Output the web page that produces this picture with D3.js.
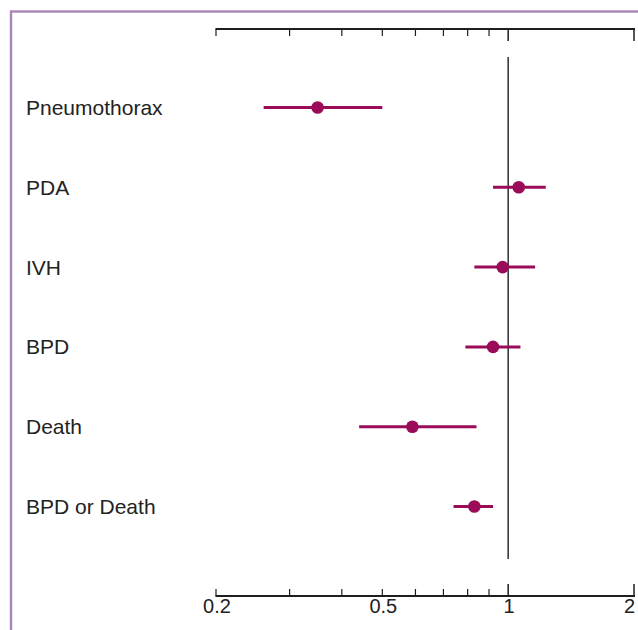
<!DOCTYPE html>
<html>
<head>
<meta charset="utf-8">
<script src="https://cdn.jsdelivr.net/npm/d3@7"></script>
<style>
  html, body { margin: 0; padding: 0; background: #fff; }
  svg { display: block; }
</style>
</head>
<body>
<svg id="chart" width="638" height="630"></svg>
<script>
// Outcomes and their ratio estimates with confidence limits
const outcomes = ["Pneumothorax", "PDA", "IVH", "BPD", "Death", "BPD or Death"];
const estimates = [0.35, 1.06, 0.97, 0.92, 0.59, 0.83];
const lowerCI  = [0.26, 0.92, 0.83, 0.79, 0.44, 0.74];
const upperCI  = [0.50, 1.23, 1.16, 1.07, 0.84, 0.92];

// Axis ticks
const minorTicks = [0.2, 0.3, 0.4, 0.5, 0.6, 0.7, 0.8, 0.9];
const majorTicks = [1, 2];
const tickLabels = [0.2, 0.5, 1, 2];

const svg = d3.select("#chart");
const W = 638, H = 630;

const x = d3.scaleLog().domain([0.2, 2]).range([216, 634]);
const y = d3.scalePoint().domain(outcomes).range([107.5, 506.5]);

const markColor = "#9a0b58";
const axisColor = "#1e1e1e";
const font = "Liberation Sans, Arial, Helvetica, sans-serif";

// Frame
svg.append("rect")
  .attr("x", 11).attr("y", 11.5)
  .attr("width", W + 20).attr("height", H + 20)
  .attr("fill", "none")
  .attr("stroke", "#a886ba")
  .attr("stroke-width", 2.4);

// Top and bottom log axes
function drawAxis(yPos, dir) {
  const g = svg.append("g");
  g.append("line")
    .attr("x1", x(0.2) - 0.5).attr("x2", x(2) + 1)
    .attr("y1", yPos).attr("y2", yPos)
    .attr("stroke", axisColor).attr("stroke-width", 2);
  g.selectAll("line.minor").data(minorTicks).join("line")
    .attr("class", "minor")
    .attr("x1", d => x(d)).attr("x2", d => x(d))
    .attr("y1", yPos).attr("y2", yPos + dir * 7)
    .attr("stroke", axisColor).attr("stroke-width", 1.2);
  g.selectAll("line.major").data(majorTicks).join("line")
    .attr("class", "major")
    .attr("x1", d => x(d)).attr("x2", d => x(d))
    .attr("y1", yPos).attr("y2", yPos + dir * 12)
    .attr("stroke", axisColor).attr("stroke-width", 1.5);
  return g;
}
drawAxis(29, 1);
const bottom = drawAxis(596, -1);

// Tick labels; the last one sits flush against the right end of the axis
const lastLabel = tickLabels.length - 1;
bottom.selectAll("text").data(tickLabels).join("text")
  .attr("x", d => x(d) + 1)
  .attr("y", 613)
  .attr("text-anchor", (d, i) => i === lastLabel ? "end" : "middle")
  .attr("font-family", font)
  .attr("font-size", 20)
  .attr("fill", "#222")
  .text(d => d);

// Line of no effect
svg.append("line")
  .attr("x1", x(1)).attr("x2", x(1))
  .attr("y1", 57).attr("y2", 559)
  .attr("stroke", axisColor).attr("stroke-width", 1.4);

// Outcome labels
svg.append("g").selectAll("text").data(outcomes).join("text")
  .attr("x", 26)
  .attr("y", d => y(d))
  .attr("dy", "0.36em")
  .attr("font-family", font)
  .attr("font-size", 21)
  .attr("fill", "#222")
  .text(d => d);

// Confidence intervals and point estimates
const rows = svg.append("g").selectAll("g").data(outcomes).join("g");
rows.append("line")
  .attr("x1", (d, i) => x(lowerCI[i]))
  .attr("x2", (d, i) => x(upperCI[i]))
  .attr("y1", d => y(d)).attr("y2", d => y(d))
  .attr("stroke", markColor).attr("stroke-width", 3);
rows.append("circle")
  .attr("cx", (d, i) => x(estimates[i]))
  .attr("cy", d => y(d))
  .attr("r", 6.3)
  .attr("fill", markColor);
</script>
</body>
</html>
